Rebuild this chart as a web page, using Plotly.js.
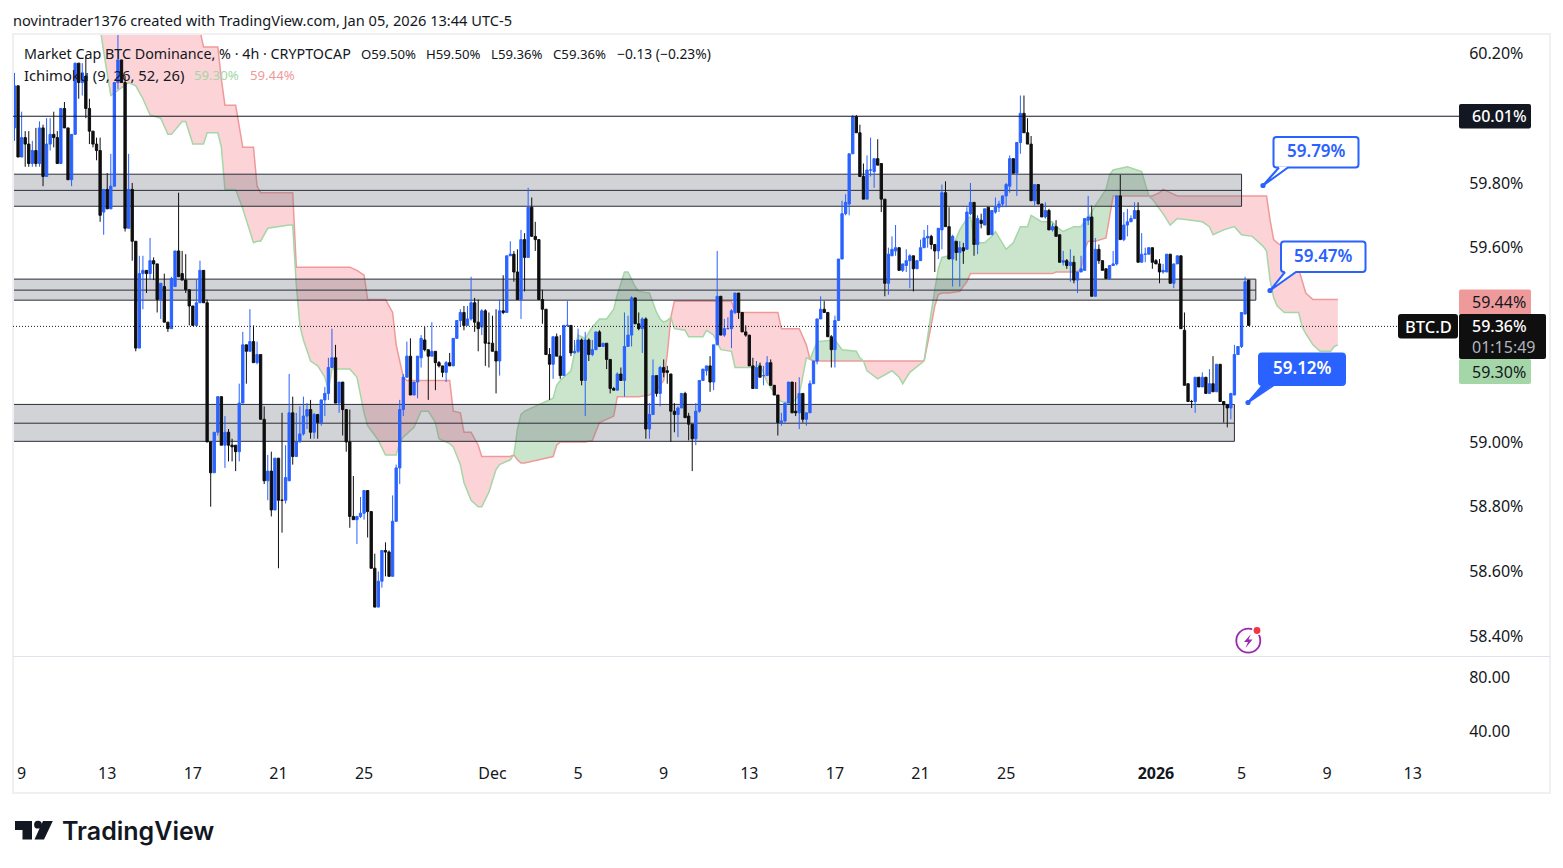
<!DOCTYPE html>
<html><head><meta charset="utf-8">
<script src="https://cdn.plot.ly/plotly-3.0.1.min.js"></script>
<style>html,body{margin:0;padding:0;background:#fff}#c{width:1563px;height:868px}</style></head>
<body><div id="c"></div>
<script>
const opens=[
59.97,60.10,59.88,59.94,59.92,59.86,59.90,59.86,59.97,59.82,
59.92,59.95,59.94,59.86,60.03,59.97,59.81,59.95,60.17,60.11,
60.13,60.03,59.96,59.92,59.90,59.71,59.78,59.72,59.79,60.11,
60.18,60.11,59.66,59.78,59.62,59.29,59.52,59.53,59.52,59.56,
59.55,59.44,59.48,59.37,59.35,59.48,59.59,59.52,59.50,59.47,
59.42,59.36,59.43,59.53,59.43,59.00,58.905,59.03,59.14,58.99,
59.03,58.99,58.99,58.97,59.12,59.30,59.28,59.31,59.245,59.27,
59.07,58.88,58.91,58.79,58.95,58.82,58.82,58.88,59.09,58.955,
59.00,59.025,59.08,59.10,59.03,59.085,59.06,59.13,59.15,59.23,
59.26,59.12,59.185,59.10,59.00,58.77,58.76,58.77,58.78,58.85,
58.785,58.61,58.49,58.57,58.665,58.66,58.585,58.755,58.92,59.10,
59.20,59.265,59.145,59.185,59.26,59.315,59.285,59.265,59.28,59.245,
59.235,59.215,59.245,59.235,59.32,59.375,59.40,59.36,59.38,59.43,
59.37,59.355,59.405,59.305,59.305,59.28,59.25,59.405,59.40,59.575,
59.58,59.525,59.44,59.625,59.57,59.725,59.635,59.625,59.44,59.41,
59.27,59.24,59.325,59.265,59.205,59.36,59.36,59.275,59.28,59.315,
59.19,59.315,59.27,59.285,59.34,59.295,59.305,59.255,59.165,59.16,
59.21,59.19,59.295,59.33,59.445,59.365,59.35,59.38,59.04,59.085,
59.205,59.15,59.23,59.22,59.21,59.095,59.085,59.105,59.15,59.08,
59.055,59.01,59.095,59.19,59.22,59.235,59.185,59.30,59.45,59.33,
59.35,59.35,59.40,59.46,59.40,59.34,59.33,59.235,59.165,59.235,
59.205,59.205,59.245,59.175,59.145,59.06,59.065,59.12,59.185,59.095,
59.09,59.15,59.07,59.09,59.18,59.25,59.38,59.41,59.40,59.325,
59.285,59.375,59.565,59.705,59.735,59.89,60.005,59.955,59.82,59.75,
59.84,59.835,59.875,59.86,59.75,59.49,59.575,59.59,59.60,59.53,
59.545,59.56,59.575,59.535,59.56,59.60,59.63,59.635,59.61,59.59,
59.655,59.77,59.665,59.565,59.62,59.585,59.60,59.595,59.705,59.74,
59.61,59.685,59.67,59.725,59.64,59.71,59.725,59.735,59.76,59.79,
59.875,59.83,59.925,60.015,59.955,59.92,59.745,59.795,59.735,59.695,
59.715,59.655,59.665,59.64,59.555,59.56,59.545,59.555,59.50,59.525,
59.53,59.685,59.695,59.45,59.595,59.56,59.535,59.505,59.545,59.55,
59.76,59.625,59.67,59.68,59.69,59.715,59.555,59.58,59.58,59.60,
59.56,59.55,59.525,59.525,59.58,59.49,59.55,59.575,59.345,59.18,
59.125,59.125,59.20,59.17,59.20,59.15,59.18,59.155,59.24,59.125,
59.115,59.105,59.145,59.27,59.295,59.395,59.50];
const highs=[
60.14,60.10,60.02,59.96,59.96,59.93,59.97,59.99,59.98,60.00,
60.00,60.02,59.96,60.03,60.05,59.97,59.95,60.17,60.17,60.17,
60.19,60.06,59.96,59.94,59.94,59.78,59.83,59.89,60.11,60.27,
60.18,60.13,59.89,59.80,59.62,59.575,59.575,59.53,59.63,59.57,
59.55,59.49,59.52,59.37,59.51,59.59,59.77,59.59,59.58,59.47,
59.42,59.50,59.56,59.53,59.44,59.00,59.03,59.14,59.14,59.08,
59.04,59.01,58.99,59.18,59.34,59.30,59.41,59.36,59.31,59.27,
59.11,58.96,58.97,58.95,58.95,59.09,58.99,59.21,59.14,59.09,
59.11,59.14,59.12,59.13,59.09,59.085,59.13,59.17,59.26,59.35,
59.30,59.185,59.185,59.10,59.10,58.895,58.77,58.83,58.85,58.85,
58.785,58.655,58.60,58.665,58.69,58.665,58.835,58.93,59.13,59.21,
59.31,59.32,59.185,59.265,59.33,59.355,59.285,59.37,59.28,59.25,
59.235,59.25,59.275,59.32,59.375,59.41,59.42,59.42,59.51,59.445,
59.44,59.41,59.41,59.40,59.39,59.41,59.44,59.515,59.575,59.62,
59.59,59.595,59.655,59.645,59.785,59.755,59.68,59.625,59.47,59.41,
59.29,59.325,59.335,59.33,59.36,59.435,59.36,59.315,59.35,59.32,
59.34,59.32,59.315,59.34,59.345,59.305,59.305,59.255,59.17,59.215,
59.23,59.40,59.39,59.45,59.445,59.40,59.385,59.385,59.12,59.255,
59.205,59.235,59.255,59.235,59.21,59.12,59.11,59.15,59.155,59.09,
59.055,59.12,59.19,59.225,59.235,59.265,59.30,59.59,59.45,59.38,
59.385,59.41,59.46,59.46,59.40,59.36,59.33,59.26,59.25,59.245,
59.235,59.265,59.255,59.175,59.145,59.09,59.12,59.185,59.185,59.185,
59.20,59.15,59.09,59.19,59.25,59.38,59.45,59.435,59.40,59.33,
59.39,59.565,59.745,59.765,59.89,60.01,60.01,59.98,59.86,59.885,
59.94,59.875,59.935,59.86,59.75,59.60,59.635,59.67,59.60,59.55,
59.595,59.58,59.575,59.56,59.625,59.655,59.67,59.64,59.61,59.66,
59.795,59.805,59.725,59.64,59.62,59.62,59.615,59.725,59.80,59.74,
59.70,59.705,59.72,59.725,59.715,59.755,59.745,59.76,59.80,59.885,
59.875,59.925,60.07,60.07,60.00,59.945,59.795,59.795,59.735,59.74,
59.72,59.675,59.685,59.64,59.59,59.565,59.595,59.575,59.525,59.575,
59.69,59.76,59.73,59.63,59.61,59.56,59.535,59.545,59.59,59.76,
59.825,59.71,59.72,59.70,59.74,59.74,59.645,59.60,59.60,59.60,
59.565,59.565,59.55,59.58,59.58,59.55,59.575,59.575,59.40,59.18,
59.13,59.20,59.20,59.215,59.20,59.225,59.265,59.24,59.24,59.125,
59.115,59.15,59.30,59.295,59.40,59.51,59.50];
const lows=[
59.93,59.88,59.88,59.85,59.85,59.85,59.85,59.85,59.79,59.82,
59.90,59.91,59.86,59.86,59.97,59.81,59.79,59.95,60.06,60.07,
60.00,59.92,59.91,59.87,59.68,59.64,59.72,59.72,59.79,60.09,
60.11,59.65,59.66,59.56,59.28,59.29,59.41,59.46,59.50,59.50,
59.40,59.38,59.37,59.34,59.35,59.48,59.51,59.50,59.46,59.36,
59.36,59.36,59.43,59.43,59.00,58.80,58.905,59.02,58.99,58.92,
58.94,58.94,58.91,58.94,59.12,59.18,59.28,59.245,59.24,59.07,
58.87,58.82,58.77,58.79,58.61,58.72,58.81,58.88,58.93,58.955,
59.00,59.02,59.04,59.01,59.01,59.01,59.05,59.08,59.13,59.23,
59.12,59.09,59.02,58.97,58.735,58.76,58.685,58.765,58.76,58.705,
58.61,58.49,58.49,58.55,58.585,58.585,58.585,58.755,58.87,59.08,
59.20,59.145,59.145,59.135,59.23,59.28,59.13,59.265,59.16,59.23,
59.20,59.185,59.235,59.235,59.32,59.355,59.345,59.36,59.375,59.34,
59.28,59.33,59.235,59.23,59.28,59.15,59.205,59.395,59.40,59.575,
59.495,59.44,59.38,59.465,59.57,59.635,59.59,59.44,59.365,59.27,
59.13,59.195,59.265,59.195,59.205,59.355,59.265,59.275,59.275,59.175,
59.08,59.25,59.265,59.285,59.295,59.295,59.225,59.15,59.16,59.16,
59.19,59.14,59.295,59.295,59.365,59.345,59.275,59.01,59.01,59.085,
59.14,59.11,59.20,59.18,59.00,59.03,59.015,59.105,59.075,59.005,
58.91,58.99,59.09,59.19,59.205,59.155,59.16,59.30,59.33,59.325,
59.35,59.29,59.395,59.38,59.34,59.325,59.235,59.165,59.165,59.20,
59.175,59.205,59.175,59.145,59.02,59.05,59.06,59.12,59.09,59.08,
59.04,59.06,59.05,59.09,59.18,59.24,59.38,59.40,59.325,59.23,
59.23,59.375,59.565,59.70,59.70,59.89,59.955,59.82,59.75,59.75,
59.82,59.785,59.855,59.71,59.45,59.455,59.575,59.575,59.53,59.525,
59.525,59.475,59.465,59.535,59.56,59.60,59.60,59.595,59.525,59.565,
59.595,59.665,59.565,59.48,59.56,59.48,59.55,59.595,59.70,59.575,
59.58,59.66,59.67,59.64,59.64,59.705,59.71,59.725,59.725,59.77,
59.83,59.76,59.89,59.955,59.92,59.745,59.73,59.735,59.695,59.69,
59.655,59.65,59.635,59.555,59.545,59.535,59.495,59.49,59.46,59.525,
59.53,59.67,59.45,59.45,59.55,59.53,59.505,59.50,59.545,59.545,
59.625,59.62,59.635,59.68,59.69,59.555,59.555,59.555,59.58,59.535,
59.55,59.49,59.52,59.525,59.49,59.475,59.55,59.35,59.175,59.125,
59.105,59.09,59.17,59.17,59.15,59.15,59.155,59.155,59.125,59.06,
59.045,59.07,59.145,59.27,59.29,59.395,59.36];
const closes=[
60.10,59.88,59.94,59.92,59.86,59.90,59.86,59.97,59.82,59.92,
59.95,59.94,59.86,60.03,59.97,59.81,59.95,60.17,60.11,60.14,
60.03,59.96,59.92,59.90,59.70,59.78,59.72,59.79,60.11,60.18,
60.11,59.66,59.78,59.62,59.29,59.52,59.53,59.52,59.56,59.55,
59.44,59.49,59.37,59.35,59.505,59.59,59.51,59.50,59.47,59.42,
59.36,59.43,59.53,59.43,59.00,58.905,59.03,59.14,58.99,59.03,
58.99,58.985,58.97,59.12,59.30,59.28,59.31,59.245,59.27,59.07,
58.88,58.91,58.79,58.95,58.82,58.82,58.89,59.09,58.955,59.00,
59.025,59.08,59.10,59.03,59.085,59.06,59.13,59.15,59.23,59.26,
59.12,59.185,59.10,59.00,58.77,58.76,58.77,58.78,58.85,58.785,
58.61,58.49,58.57,58.665,58.66,58.585,58.755,58.92,59.10,59.20,
59.265,59.145,59.185,59.265,59.32,59.285,59.265,59.28,59.245,59.235,
59.215,59.245,59.235,59.32,59.375,59.40,59.36,59.38,59.43,59.37,
59.35,59.405,59.305,59.305,59.28,59.25,59.405,59.40,59.575,59.58,
59.525,59.44,59.625,59.57,59.725,59.635,59.625,59.44,59.41,59.27,
59.24,59.325,59.265,59.205,59.36,59.36,59.275,59.28,59.315,59.19,
59.315,59.27,59.285,59.34,59.295,59.305,59.255,59.165,59.16,59.21,
59.19,59.295,59.33,59.445,59.365,59.35,59.38,59.04,59.085,59.205,
59.15,59.23,59.215,59.215,59.095,59.085,59.105,59.15,59.075,59.055,
59.01,59.095,59.19,59.225,59.235,59.185,59.30,59.45,59.33,59.35,
59.35,59.405,59.46,59.40,59.34,59.33,59.235,59.165,59.23,59.20,
59.205,59.245,59.175,59.145,59.06,59.065,59.12,59.185,59.09,59.09,
59.15,59.07,59.09,59.18,59.25,59.38,59.41,59.40,59.325,59.285,
59.375,59.565,59.705,59.74,59.89,60.005,59.955,59.82,59.75,59.84,
59.84,59.875,59.855,59.75,59.49,59.58,59.595,59.60,59.53,59.55,
59.56,59.575,59.535,59.56,59.60,59.63,59.635,59.61,59.59,59.66,
59.77,59.665,59.565,59.635,59.585,59.60,59.59,59.71,59.74,59.61,
59.69,59.675,59.72,59.64,59.715,59.725,59.735,59.76,59.795,59.875,
59.83,59.925,60.015,59.955,59.92,59.745,59.795,59.735,59.695,59.715,
59.655,59.665,59.635,59.555,59.56,59.545,59.555,59.50,59.525,59.535,
59.69,59.695,59.45,59.595,59.56,59.53,59.505,59.545,59.55,59.76,
59.625,59.67,59.68,59.69,59.715,59.555,59.58,59.58,59.60,59.555,
59.55,59.525,59.53,59.58,59.49,59.55,59.575,59.35,59.175,59.125,
59.125,59.20,59.17,59.20,59.15,59.18,59.155,59.24,59.125,59.115,
59.105,59.15,59.27,59.295,59.40,59.495,59.36];

// Ichimoku cloud: bar number, leading span A, leading span B
const cloudBars=[22,24,25,27,32,34,36,38,41,43,44,47,48,50,52,53,54,57,58,59,62,64,67,68,69,71,77,78,79,80,81,83,85,87,88,89,94,96,98,99,102,104,106,107,108,109,110,112,114,116,118,119,122,123,125,126,128,130,131,133,135,136,139,140,141,142,143,151,152,153,156,158,160,162,164,166,168,169,171,172,174,175,178,180,181,182,183,184,185,188,189,193,194,196,198,201,202,207,209,211,214,215,218,220,222,223,224,225,230,232,236,237,238,239,242,246,248,249,251,254,255,256,257,258,259,260,262,265,267,268,269,270,272,274,275,278,280,282,284,285,288,291,292,294,297,299,300,301,303,306,307,308,312,316,318,319,321,322,324,326,330,333,335,336,339,342,344,347,350,351,352,353,354,356,360,361,362,364,366,369,370,371];
const spanA=[60.40,60.28,60.205,60.07,60.11,60.10,60.06,60.01,60.00,59.95,59.95,59.99,59.99,59.92,59.92,59.92,59.955,59.955,59.91,59.78,59.78,59.72,59.615,59.62,59.62,59.66,59.67,59.67,59.485,59.36,59.315,59.25,59.235,59.20,59.16,59.225,59.225,59.20,59.09,59.05,59.005,58.96,58.96,58.96,59.00,59.015,59.025,59.045,59.095,59.095,59.06,59.01,58.995,58.985,58.93,58.875,58.82,58.80,58.80,58.845,58.915,58.93,58.945,58.96,59.04,59.085,59.095,59.135,59.175,59.19,59.22,59.33,59.32,59.355,59.38,59.38,59.41,59.455,59.525,59.525,59.48,59.465,59.46,59.40,59.38,59.37,59.375,59.385,59.35,59.345,59.325,59.325,59.345,59.33,59.285,59.28,59.23,59.23,59.24,59.185,59.135,59.125,59.12,59.145,59.26,59.255,59.285,59.31,59.315,59.285,59.28,59.26,59.25,59.22,59.195,59.22,59.20,59.18,59.215,59.24,59.25,59.33,59.40,59.47,59.535,59.57,59.575,59.655,59.69,59.695,59.63,59.615,59.615,59.635,59.65,59.595,59.615,59.665,59.665,59.70,59.68,59.68,59.665,59.65,59.665,59.665,59.68,59.69,59.73,59.78,59.825,59.84,59.85,59.835,59.76,59.75,59.72,59.705,59.67,59.69,59.685,59.68,59.665,59.64,59.655,59.665,59.64,59.635,59.605,59.59,59.50,59.445,59.42,59.40,59.40,59.355,59.335,59.30,59.28,59.28,59.295,59.30];
const spanB=[60.40,60.40,60.40,60.40,60.40,60.40,60.40,60.40,60.40,60.40,60.40,60.40,60.40,60.40,60.27,60.22,60.22,60.22,60.12,60.04,60.04,59.91,59.91,59.79,59.77,59.77,59.77,59.77,59.54,59.54,59.54,59.54,59.54,59.54,59.54,59.54,59.54,59.53,59.515,59.44,59.44,59.44,59.40,59.30,59.25,59.20,59.19,59.19,59.19,59.19,59.19,59.19,59.19,59.095,59.09,59.03,59.03,58.99,58.955,58.955,58.955,58.955,58.955,58.96,58.945,58.935,58.935,58.955,58.99,59.00,59.00,59.00,59.00,59.005,59.06,59.07,59.08,59.14,59.14,59.14,59.14,59.14,59.145,59.16,59.175,59.19,59.27,59.385,59.435,59.435,59.435,59.435,59.435,59.435,59.435,59.435,59.40,59.40,59.40,59.40,59.40,59.35,59.35,59.35,59.30,59.255,59.25,59.25,59.25,59.25,59.25,59.25,59.25,59.25,59.25,59.25,59.25,59.25,59.25,59.25,59.25,59.30,59.36,59.42,59.455,59.46,59.46,59.465,59.495,59.52,59.52,59.52,59.52,59.52,59.52,59.52,59.52,59.52,59.52,59.52,59.52,59.52,59.525,59.525,59.525,59.53,59.595,59.62,59.62,59.63,59.70,59.76,59.76,59.76,59.76,59.76,59.77,59.78,59.77,59.76,59.76,59.76,59.76,59.76,59.76,59.76,59.76,59.76,59.76,59.76,59.685,59.625,59.615,59.60,59.535,59.50,59.46,59.44,59.44,59.44,59.44,59.44];

// Support / resistance zones
const zoneTops=[59.827,59.503,59.116];
const zoneMids=[59.777,59.469,59.058];
const zoneBottoms=[59.728,59.438,59.002];
const zoneEndBars=[344,348,342];
const highLine=60.006, lastLine=59.357, lastPrice=59.36, cloudA=59.30, cloudB=59.44;

const priceTicks=[60.2,59.8,59.6,59.0,58.8,58.6,58.4];
const paneTicks=[80,40];
const timeTickBars=[2,26,50,74,98,134,158,182,206,230,254,278,320,344,368,392];
const timeTickLabels=['9','13','17','21','25','Dec','5','9','13','17','21','25','<b>2026</b>','5','9','13'];

const W=1563,H=868;
const X=x=>x/W, Y=y=>1-y/H;
const START=Date.UTC(2025,10,8,16), STEP=4*3600*1000;
const T=i=>new Date(START+i*STEP).toISOString().replace('T',' ').replace('Z','');
const bars=opens.map((_,i)=>T(i));
const pxBar=x=>(x-14.5)/3.567;
const xRange=[T(pxBar(13)),T(pxBar(1459))];
const yRange=[58.339,60.26];
const FONT='"Noto Sans", sans-serif';
const INK='#131722', BLUE='#2962ff';

const traces=[];
// cloud, one pair of traces for each stretch where the same span is on top
let segs=[],cur=null;
cloudBars.forEach((b,k)=>{
  const s=Math.sign(spanA[k]-spanB[k]);
  if(!cur){cur={s:s,idx:[k]};segs.push(cur);}
  else if(s===0){cur.idx.push(k);cur={s:0,idx:[k]};segs.push(cur);}
  else{ if(cur.s===0)cur.s=s; cur.idx.push(k);}
});
segs.filter(g=>g.idx.length>1).forEach(g=>{
  const xs=g.idx.map(k=>T(cloudBars[k]));
  traces.push({type:'scatter',mode:'lines',x:xs,y:g.idx.map(k=>spanB[k]),line:{color:'#ef9a9a',width:1.5},hoverinfo:'skip',showlegend:false});
  traces.push({type:'scatter',mode:'lines',x:xs,y:g.idx.map(k=>spanA[k]),line:{color:'#a5d6a7',width:1.5},fill:'tonexty',
    fillcolor:g.s>0?'rgba(67,160,71,0.28)':'rgba(242,54,69,0.22)',hoverinfo:'skip',showlegend:false});
});
// zones above the cloud
zoneTops.forEach((t,k)=>{
  const e=zoneEndBars[k],b=zoneBottoms[k];
  traces.push({type:'scatter',mode:'lines',x:[T(-8),T(e),T(e),T(-8),T(-8)],y:[t,t,b,b,t],fill:'toself',fillcolor:'rgba(119,121,130,0.33)',
    line:{color:'#2a2e39',width:1},hoverinfo:'skip',showlegend:false});
  traces.push({type:'scatter',mode:'lines',x:[T(-8),T(e)],y:[zoneMids[k],zoneMids[k]],line:{color:'#2a2e39',width:1},hoverinfo:'skip',showlegend:false});
});
// empty lower pane
traces.push({type:'scatter',mode:'lines',x:[null],y:[null],yaxis:'y3',hoverinfo:'skip',showlegend:false});
// candles above everything in an overlaid subplot
traces.push({type:'candlestick',x:bars,open:opens,high:highs,low:lows,close:closes,xaxis:'x2',yaxis:'y2',
  increasing:{line:{color:BLUE,width:1},fillcolor:BLUE},decreasing:{line:{color:'#0f0f0f',width:1},fillcolor:'#0f0f0f'},
  hoverinfo:'skip',showlegend:false});

const shapes=[];
const rr=(x0,y0,x1,y1,r)=>`M${X(x0+r)} ${Y(y0)}L${X(x1-r)} ${Y(y0)}Q${X(x1)} ${Y(y0)} ${X(x1)} ${Y(y0+r)}L${X(x1)} ${Y(y1-r)}Q${X(x1)} ${Y(y1)} ${X(x1-r)} ${Y(y1)}L${X(x0+r)} ${Y(y1)}Q${X(x0)} ${Y(y1)} ${X(x0)} ${Y(y1-r)}L${X(x0)} ${Y(y0+r)}Q${X(x0)} ${Y(y0)} ${X(x0+r)} ${Y(y0)}Z`;
const pathShape=(d,fill,color,w)=>({type:'path',xref:'paper',yref:'paper',path:d,fillcolor:fill,line:{color:color||'rgba(0,0,0,0)',width:w||0},layer:'above'});
const rect=(x0,y0,x1,y1,fill,r)=>shapes.push(pathShape(rr(x0,y0,x1,y1,r||2),fill));
const circle=(x,y,r,fill,color,w)=>shapes.push({type:'circle',xref:'paper',yref:'paper',x0:X(x-r),x1:X(x+r),y0:Y(y+r),y1:Y(y-r),fillcolor:fill,line:{color:color||'rgba(0,0,0,0)',width:w||0},layer:'above'});
const poly=(pts,fill,color,w)=>shapes.push(pathShape('M'+pts.map(p=>X(p[0])+' '+Y(p[1])).join('L')+(color?'':'Z'),fill,color,w));

// frame, pane separator and horizontal levels
shapes.push({type:'rect',xref:'paper',yref:'paper',x0:X(13),x1:X(1550),y0:Y(793),y1:Y(34),line:{color:'#f0f0f3',width:2},fillcolor:'rgba(0,0,0,0)',layer:'above'});
shapes.push({type:'line',xref:'paper',yref:'paper',x0:X(13),x1:X(1550),y0:Y(656.5),y1:Y(656.5),line:{color:'#e0e3eb',width:1},layer:'above'});
shapes.push({type:'line',xref:'paper',yref:'y',x0:X(13),x1:X(1459),y0:highLine,y1:highLine,line:{color:INK,width:1},layer:'above'});
shapes.push({type:'line',xref:'paper',yref:'y',x0:X(13),x1:X(1398),y0:lastLine,y1:lastLine,line:{color:'#131722',width:1,dash:'1px,2px'},layer:'above'});

// callouts
function callout(x0,y0,x1,y1,tail,dot,filled){
  const fill=filled?BLUE:'#ffffff';
  shapes.push(pathShape(rr(x0,y0,x1,y1,3),fill,BLUE,2));
  poly([[tail[0],y1-1],dot,[tail[1],y1-1]],fill);
  poly([[tail[0],y1],dot,[tail[1],y1]],'rgba(0,0,0,0)',BLUE,2);
  circle(dot[0],dot[1],2.6,BLUE);
}
callout(1273.5,137,1358.5,167.5,[1279,1288],[1263,185.5],false);
callout(1281,241.5,1365.5,272,[1285,1296],[1270,290.5],false);
callout(1259,353.5,1345,385,[1263,1274],[1248,402.5],true);

// right-hand price tags
rect(1459,104,1531,128.5,'#131722',2);
rect(1459,289.5,1531,315,'#ef9a9a',2);
rect(1459,359,1531,384,'#a5d6a7',2);
rect(1459,314,1546,359,'#0f0f0f',2);
rect(1398,314,1458,338.5,'#0f0f0f',3);

// lightning badge
circle(1248.3,640.7,12,'rgba(0,0,0,0)','#9c27b0',1.8);
poly([[1251,634],[1244,642],[1248,642],[1245.5,648],[1252.5,639.5],[1248.5,639.5]],'#9c27b0');
circle(1257,630.5,5,'#ffffff');
circle(1257,630.5,3.4,'#f23645');

// logo
poly([[15,821],[32,821],[32,839.5],[22.5,839.5],[22.5,830],[15,830]],'#131722');
circle(38,824.7,3.9,'#131722');
poly([[43,821],[52.8,821],[44,839.5],[34.5,839.5]],'#131722');

const ann=[];
const txt=(x,y,t,o)=>{o=o||{};ann.push({xref:'paper',yref:'paper',x:X(x),y:Y(y),text:t,showarrow:false,xanchor:o.a||'left',yanchor:'middle',
  font:{family:o.f||FONT,size:o.s||14,color:o.c||INK,weight:o.w||400},borderpad:0});};

txt(12,19.5,'novintrader1376 created with TradingView.com, Jan 05, 2026 13:44 UTC-5',{s:14.6});
txt(23,53.5,'Market Cap BTC Dominance, % · 4h · CRYPTOCAP',{s:14.3});
txt(360,53.5,'O59.50%',{s:13.2});
txt(424.5,53.5,'H59.50%',{s:13.2});
txt(490,53.5,'L59.36%',{s:13.2});
txt(552,53.5,'C59.36%',{s:13.2});
txt(616,53.5,'−0.13 (−0.23%)',{s:13.8});
txt(23,75,'Ichimoku (9, 26, 52, 26)',{s:14.8});
txt(193,75,cloudA.toFixed(2)+'%',{s:13.2,c:'#a5d6a7'});
txt(248.5,75,cloudB.toFixed(2)+'%',{s:13.2,c:'#ef9a9a'});

txt(1316.5,150.7,'59.79%',{a:'center',s:17,c:BLUE,w:600});
txt(1323,255.2,'59.47%',{a:'center',s:17,c:BLUE,w:600});
txt(1302,367.7,'59.12%',{a:'center',s:17,c:'#ffffff',w:600});

txt(1470.5,116.2,'60.01%',{s:16,c:'#ffffff',w:500});
txt(1470.5,301.7,cloudB.toFixed(2)+'%',{s:16,c:'#131722'});
txt(1470.5,326.2,lastPrice.toFixed(2)+'%',{s:16,c:'#ffffff',w:500});
txt(1470.5,346.7,'01:15:49',{s:16,c:'#b2b5be'});
txt(1470.5,371.7,cloudA.toFixed(2)+'%',{s:16,c:'#131722'});
txt(1404,326.2,'BTC.D',{s:16.5,c:'#ffffff',w:500});

txt(60.5,830.5,'TradingView',{s:25,f:'Inter, sans-serif',w:600,c:'#131722'});

const layout={
  width:W,height:H,autosize:false,margin:{l:0,r:0,t:0,b:0,pad:0},paper_bgcolor:'#fff',plot_bgcolor:'rgba(0,0,0,0)',
  showlegend:false,boxgap:0.35,boxgroupgap:0,boxmode:'overlay',dragmode:false,hovermode:false,
  font:{family:FONT,color:INK,size:14},
  xaxis:{type:'date',domain:[X(13),X(1459)],range:xRange,anchor:'free',position:Y(757),tickmode:'array',tickvals:timeTickBars.map(T),ticktext:timeTickLabels,
    showgrid:false,zeroline:false,showline:false,ticks:'outside',ticklen:2,tickcolor:'rgba(0,0,0,0)',tickfont:{family:FONT,size:16,color:INK},tickangle:0,rangeslider:{visible:false},fixedrange:true},
  yaxis:{domain:[Y(656),Y(34)],range:yRange,side:'right',anchor:'x',tickmode:'array',tickvals:priceTicks,ticktext:priceTicks.map(v=>v.toFixed(2)+'%'),
    showgrid:false,zeroline:false,showline:false,ticks:'outside',ticklen:6,tickcolor:'rgba(0,0,0,0)',tickfont:{family:FONT,size:16,color:INK},fixedrange:true},
  xaxis2:{type:'date',overlaying:'x',anchor:'y2',range:xRange,visible:false,rangeslider:{visible:false},fixedrange:true},
  yaxis2:{overlaying:'y',anchor:'x2',side:'right',range:yRange,visible:false,fixedrange:true},
  yaxis3:{domain:[Y(757),Y(656)],range:[20.7,95.6],side:'right',anchor:'x',tickmode:'array',tickvals:paneTicks,ticktext:paneTicks.map(v=>v.toFixed(2)),
    showgrid:false,zeroline:false,showline:false,ticks:'outside',ticklen:6,tickcolor:'rgba(0,0,0,0)',tickfont:{family:FONT,size:16,color:INK},fixedrange:true},
  shapes:shapes,annotations:ann
};
Plotly.newPlot('c',traces,layout,{staticPlot:true,displayModeBar:false});
</script></body></html>
